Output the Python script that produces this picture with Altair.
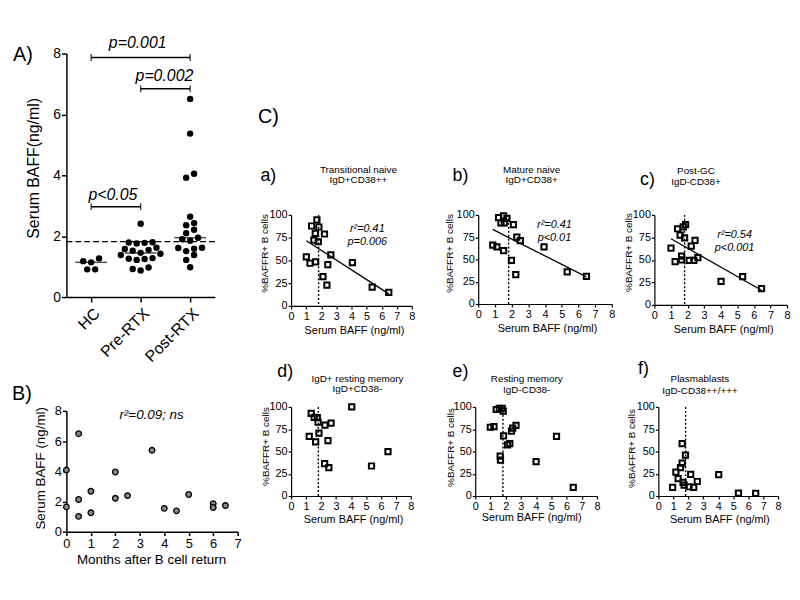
import json
import altair as alt
import pandas as pd
import numpy as np

FONT = "Liberation Sans"

# ---------------- Panel A data ----------------
GROUPS = ["HC", "Pre-RTX", "Post-RTX"]
HC_BAFF = [1.14, 0.91, 1.27, 0.91, 1.18]
PRE_BAFF = [2.41, 1.80, 1.79, 1.78, 1.76, 1.62, 1.58, 1.55, 1.52, 1.45,
            1.42, 1.38, 1.28, 1.26, 1.25, 1.22, 0.97, 0.92, 0.87]
POST_BAFF = [6.51, 5.37, 4.05, 3.92, 2.64, 2.43, 2.36, 2.21, 2.10, 1.95,
             1.90, 1.85, 1.62, 1.61, 1.59, 1.51, 1.38, 1.22, 0.98]
BAFF_CUTOFF = 1.82
BRACKET_FROM = [0, 1, 0]
BRACKET_TO = [2, 2, 1]
BRACKET_Y = [7.87, 6.84, 2.97]
P_LABELS = ["p=0.001", "p=0.002", "p<0.05"]
P_LABEL_X = [0.94, 1.48, 0.44]
P_LABEL_Y = [8.33, 7.26, 3.34]

# ---------------- Panel B data ----------------
MONTHS = [0, 0, 0.5, 0.5, 0.5, 1, 1, 2, 2, 2.5, 3.5, 4, 4.5, 5, 6, 6, 6.5]
MONTHS_BAFF = [4.08, 1.64, 6.49, 2.13, 1.01, 2.68, 1.25, 3.95, 2.21, 2.39,
               5.39, 1.54, 1.38, 2.46, 1.86, 1.60, 1.73]
B_STAT = "r²=0.09; ns"

# ---------------- Panel C data (a-f) ----------------
TN_BAFF = [1.01, 1.25, 1.36, 1.51, 1.60, 1.62, 1.71, 1.84, 1.80, 2.21, 2.11, 2.43, 2.37, 2.63, 4.06, 5.37, 6.47]
TN_PCT = [53.9, 46.9, 87.8, 72.3, 79.7, 48.3, 94.5, 86.7, 70.5, 79.0, 32.1, 45.4, 22.9, 56.1, 47.6, 20.7, 14.8]

MN_BAFF = [0.87, 1.12, 1.52, 1.22, 1.52, 1.72, 1.36, 1.56, 2.11, 2.31, 2.52, 1.99, 2.25, 3.94, 5.33, 6.48]
MN_PCT = [66, 64, 60, 97, 99, 96, 91, 91, 89, 75, 71, 49, 33, 64, 36, 31]

PG_BAFF = [1.0, 1.25, 1.40, 1.55, 1.64, 1.64, 1.74, 1.82, 1.88, 2.10, 2.22, 2.38, 2.45, 2.62, 4.02, 5.32, 6.46]
PG_PCT = [63.2, 48.2, 84.6, 77.5, 54.3, 50.0, 86.8, 74.6, 89.3, 49.6, 65.4, 49.6, 71.8, 52.5, 26.1, 31.4, 18.2]

RM1_BAFF = [1.34, 1.54, 1.75, 1.80, 1.21, 1.86, 1.64, 2.26, 2.67, 2.46, 2.24, 2.52, 4.05, 5.37, 6.47]
RM1_PCT = [92.7, 88.3, 87.9, 82.8, 67.0, 70.7, 60.8, 79.5, 81.7, 62.3, 36.3, 31.9, 100.0, 33.7, 49.8]

RM2_BAFF = [0.99, 1.23, 1.38, 1.58, 1.77, 1.84, 1.64, 1.66, 1.86, 2.12, 2.27, 2.38, 2.46, 2.68, 4.00, 5.34, 6.44]
RM2_PCT = [77.2, 77.9, 97.1, 98.5, 98.5, 95.2, 44.9, 40.4, 67.6, 57.4, 58.8, 72.8, 76.1, 79.4, 38.6, 66.9, 9.6]

PB_BAFF = [0.95, 1.17, 1.32, 1.48, 1.59, 1.59, 1.65, 1.72, 1.81, 2.05, 2.16, 2.36, 2.60, 4.03, 5.35, 6.50]
PB_PCT = [9.6, 26.7, 19.6, 31.9, 37.0, 58.9, 15.2, 12.2, 45.9, 10.4, 24.4, 9.6, 16.3, 24.1, 3.3, 3.0]

SUBTITLES = {
    "a": ["Transitional naive", "IgD+CD38++"],
    "b": ["Mature naive", "IgD+CD38+"],
    "c": ["Post-GC", "IgD-CD38+"],
    "d": ["IgD+ resting memory", "IgD+CD38-"],
    "e": ["Resting memory", "IgD-CD38-"],
    "f": ["Plasmablasts", "IgD-CD38++/+++"],
}
STATS = {
    "a": ["r²=0.41", "p=0.006"],
    "b": ["r²=0.41", "p<0.01"],
    "c": ["r²=0.54", "p<0.001"],
}
X_TITLE = "Serum BAFF (ng/ml)"
Y_TITLE = "%BAFFR+ B cells"


# ---------------- helpers ----------------
def swarm(values, bin_w=0.22, step=0.16):
    order = sorted(range(len(values)), key=lambda i: values[i])
    groups, cur = [], []
    for i in order:
        if cur and values[i] - values[cur[0]] >= bin_w:
            groups.append(cur)
            cur = []
        cur.append(i)
    if cur:
        groups.append(cur)
    offs = [0.0] * len(values)
    for g in groups:
        n = len(g)
        slots = sorted([(k - (n - 1) / 2) for k in range(n)], key=lambda s: (abs(s), s))
        for i, s in zip(g, slots):
            offs[i] = s * step
    return offs


def label(text, x, y, size, angle=0, italic=False, align="center", baseline="middle"):
    kw = dict(font=FONT, fontSize=size, align=align, baseline=baseline, color="black")
    if angle:
        kw["angle"] = angle
    if italic:
        kw["fontStyle"] = "italic"
    return alt.Chart(pd.DataFrame({"t": [text]})).mark_text(**kw).encode(
        x=alt.value(x), y=alt.value(y), text="t:N")


def frame(L, T, W, H, R, B):
    # invisible box fixing the extent of a panel (layout only)
    return alt.Chart(pd.DataFrame({"f": [0]})).mark_rect(opacity=0).encode(
        x=alt.value(-L), x2=alt.value(W + R), y=alt.value(-T), y2=alt.value(H + B))


def axis(values, size, tick=3, dw=1.2, pad=2, **kw):
    return alt.Axis(values=values, title=None, grid=False, labelFontSize=size,
                    labelFont=FONT, tickSize=tick, domainWidth=dw, tickWidth=dw,
                    labelPadding=pad, labelFlush=False, labelOverlap=False,
                    domainColor="black", tickColor="black", labelColor="black", **kw)


# ---------------- Panel A ----------------
WA, HA = 150, 246
rows = []
for gi, vals in enumerate([HC_BAFF, PRE_BAFF, POST_BAFF]):
    for v, o in zip(vals, swarm(vals)):
        rows.append({"pos": gi + o, "baff": v})
dfA = pd.DataFrame(rows)
dfMed = pd.DataFrame({"pos": [0, 1, 2],
                      "baff": [float(np.median(v)) for v in [HC_BAFF, PRE_BAFF, POST_BAFF]]})
dfBr = pd.DataFrame({"x0": BRACKET_FROM, "x1": BRACKET_TO, "y": BRACKET_Y})
dfCaps = pd.DataFrame({"x": BRACKET_FROM + BRACKET_TO, "y": BRACKET_Y + BRACKET_Y})
dfP = pd.DataFrame({"t": P_LABELS, "x": P_LABEL_X, "y": P_LABEL_Y})

xsA = alt.Scale(domain=[-0.5, 2.5], nice=False, zero=False)
ysA = alt.Scale(domain=[0, 8], nice=False)
xaxA = axis([0, 1, 2], 16, tick=5, dw=1.5, pad=3,
            labelExpr=json.dumps(GROUPS) + "[datum.value]",
            labelAngle=-45, labelAlign="right", labelBaseline="top")
yaxA = axis([0, 2, 4, 6, 8], 14, tick=5, dw=1.5, pad=1)


def XA(f):
    return alt.X(f, scale=xsA, axis=xaxA)


def YA(f):
    return alt.Y(f, scale=ysA, axis=yaxA)


A_cut = alt.Chart(pd.DataFrame({"y": [BAFF_CUTOFF]})).mark_rule(
    color="black", strokeWidth=1.3, strokeDash=[6, 3]).encode(y=YA("y:Q"))
A_pts = alt.Chart(dfA).mark_circle(size=42, color="black", opacity=1).encode(
    x=XA("pos:Q"), y=YA("baff:Q"))
A_med = alt.Chart(dfMed).mark_tick(orient="horizontal", size=32, thickness=1.5, color="black").encode(
    x=XA("pos:Q"), y=YA("baff:Q"))
A_br = alt.Chart(dfBr).mark_rule(color="black", strokeWidth=1.5).encode(
    x=XA("x0:Q"), x2="x1:Q", y=YA("y:Q"))
A_caps = alt.Chart(dfCaps).mark_tick(orient="vertical", size=7, thickness=1.5, color="black").encode(
    x=XA("x:Q"), y=YA("y:Q"))
A_p = alt.Chart(dfP).mark_text(font=FONT, fontSize=16, fontStyle="italic", color="black").encode(
    x=XA("x:Q"), y=YA("y:Q"), text="t:N")

panelA = alt.layer(
    A_cut, A_med, A_pts, A_br, A_caps, A_p,
    label("A)", -44, 2, 20),
    label("Serum BAFF(ng/ml)", -33, 116, 16, angle=270),
    frame(58, 42, WA, HA, 34, 75),
).properties(width=WA, height=HA)

# ---------------- Panel B ----------------
WB, HB = 173, 122
dfB = pd.DataFrame({"m": MONTHS, "baff": MONTHS_BAFF})
B_pts = alt.Chart(dfB).mark_point(shape="circle", filled=True, fill="#8a8a8a", stroke="black",
                                  strokeWidth=1.3, size=32, opacity=1).encode(
    x=alt.X("m:Q", scale=alt.Scale(domain=[0, 7], nice=False, zero=False),
            axis=axis(list(range(8)), 13, tick=4, dw=1.5, pad=2)),
    y=alt.Y("baff:Q", scale=alt.Scale(domain=[0, 8], nice=False),
            axis=axis([0, 2, 4, 6, 8], 13, tick=4, dw=1.5, pad=1)))
panelB = alt.layer(
    B_pts,
    label("B)", -45, -17, 20),
    label("Serum BAFF (ng/ml)", -26, 58, 13.5, angle=270),
    label("Months after B cell return", 86, 151, 13.5),
    label(B_STAT, 86, 4, 13.5, italic=True),
    frame(58, 38, WB, HB, 11, 59),
).properties(width=WB, height=HB)

# ---------------- C) header ----------------
panelCtop = alt.layer(
    label("C)", -23, 64, 20),
    frame(41, 42, 10, 100, 0, 9),
).properties(width=10, height=100)


# ---------------- Panels a-f ----------------
def scatter_panel(key, xs, ys, W, H, fr, letter_xy, sub_x, sub_y, ytitle_xy, xtitle_xy,
                  stat_xy=None, regress=False):
    df = pd.DataFrame({"baff": xs, "pct": ys})
    xsc = alt.Scale(domain=[0, 8], nice=False, zero=False)
    ysc = alt.Scale(domain=[0, 100], nice=False)
    xax = axis(list(range(9)), 11, tick=3, dw=1.2, pad=2)
    yax = axis([0, 25, 50, 75, 100], 11, tick=3, dw=1.2, pad=1)
    X = lambda f: alt.X(f, scale=xsc, axis=xax)
    Y = lambda f: alt.Y(f, scale=ysc, axis=yax)
    layers = []
    layers.append(alt.Chart(pd.DataFrame({"c": [BAFF_CUTOFF]})).mark_rule(
        color="black", strokeWidth=1.4, strokeDash=[2, 2]).encode(
        x=X("c:Q"), y=alt.value(0), y2=alt.value(H)))
    if regress:
        layers.append(alt.Chart(df).transform_regression("baff", "pct").mark_line(
            color="black", strokeWidth=1.3).encode(x=X("baff:Q"), y=Y("pct:Q")))
    layers.append(alt.Chart(df).mark_square(filled=False, size=28, strokeWidth=2,
                                            color="black", opacity=1).encode(
        x=X("baff:Q"), y=Y("pct:Q")))
    layers.append(label(key + ")", letter_xy[0], letter_xy[1], 18))
    layers.append(label(SUBTITLES[key][0], sub_x, sub_y[0], 10))
    layers.append(label(SUBTITLES[key][1], sub_x, sub_y[1], 10))
    layers.append(label(Y_TITLE, ytitle_xy[0], ytitle_xy[1], 10, angle=270))
    layers.append(label(X_TITLE, xtitle_xy[0], xtitle_xy[1], 11))
    if stat_xy is not None:
        layers.append(label(STATS[key][0], stat_xy[0], stat_xy[1], 11, italic=True))
        layers.append(label(STATS[key][1], stat_xy[0], stat_xy[1] + 13, 11, italic=True))
    L, T, R, B = fr
    layers.append(frame(L, T, W, H, R, B))
    return alt.layer(*layers).properties(width=W, height=H)


pa = scatter_panel("a", TN_BAFF, TN_PCT, 122, 92, (41, 52, 30, 50), (-23, -39), 68, (-45, -35),
                   (-26, 39), (64, 117), stat_xy=(77, 14), regress=True)
pb = scatter_panel("b", MN_BAFF, MN_PCT, 135, 90, (35, 52, 9, 52), (-18, -39), 54, (-45, -35),
                   (-28, 39), (70, 115), stat_xy=(77, 10), regress=True)
pc = scatter_panel("c", PG_BAFF, PG_PCT, 134, 91, (32, 52, 4, 51), (-7, -35), 42, (-44, -33),
                   (-26, 38), (70, 116), stat_xy=(81, 20), regress=True)
pd_ = scatter_panel("d", RM1_BAFF, RM1_PCT, 121, 90, (41, 50, 30, 97), (-6, -35), 67, (-28, -18),
                    (-25, 40), (63, 114))
pe = scatter_panel("e", RM2_BAFF, RM2_PCT, 123, 90, (33, 50, 27, 97), (-15, -35), 52, (-28, -17),
                   (-24, 41), (57, 112))
pf = scatter_panel("f", PB_BAFF, PB_PCT, 121, 90, (33, 50, 13, 97), (-15, -38), 42, (-28, -16),
                   (-27, 42), (62, 114))

left = alt.vconcat(panelA, panelB, spacing=0)
row1 = alt.hconcat(pa, pb, pc, spacing=0)
row2 = alt.hconcat(pd_, pe, pf, spacing=0)
right = alt.vconcat(panelCtop, row1, row2, spacing=0)

chart = alt.hconcat(left, right, spacing=0).properties(
    padding=0, background="white"
).configure_view(stroke="transparent")

chart.save("out.html", embed_options={"renderer": "svg", "actions": False})
